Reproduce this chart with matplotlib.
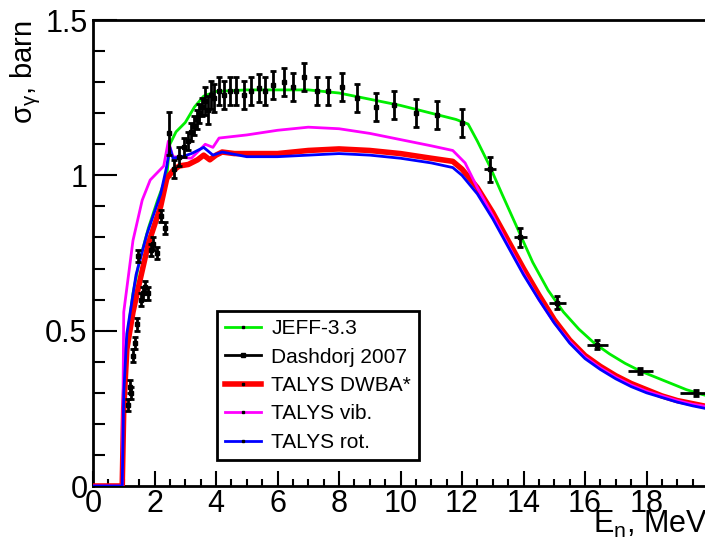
import numpy as np
import matplotlib
matplotlib.use("Agg")
import matplotlib.pyplot as plt
from matplotlib.lines import Line2D

plt.rcParams.update({
    "font.family": ["Liberation Sans", "DejaVu Sans"],
    "mathtext.fontset": "custom",
    "mathtext.rm": "Liberation Sans",
    "mathtext.it": "Liberation Sans",
})

# ---- JEFF-3.3 evaluation ----
e_jeff = [0, 0.95, 1.0, 1.1, 1.3, 1.5, 1.8, 2.1, 2.4, 2.5, 2.7, 3.0, 3.3, 3.6, 4.0,
          5, 6, 7, 8, 9, 10, 11, 11.8, 12.2, 12.5, 12.9, 13.3, 13.8, 14.3, 14.8,
          15.3, 15.8, 16.3, 16.8, 17.3, 17.8, 18.3, 18.8, 19.3, 19.8, 20]
s_jeff = [0, 0, 0.28, 0.47, 0.62, 0.72, 0.83, 0.92, 1.0, 1.10, 1.14, 1.17, 1.22, 1.255, 1.27,
          1.275, 1.275, 1.275, 1.265, 1.245, 1.225, 1.20, 1.18, 1.165, 1.11, 1.03, 0.94, 0.83, 0.72, 0.63,
          0.56, 0.505, 0.46, 0.425, 0.395, 0.37, 0.35, 0.33, 0.31, 0.295, 0.29]

# ---- TALYS DWBA* ----
e_dwba = [0, 0.95, 1.0, 1.1, 1.3, 1.5, 1.8, 2.2, 2.4, 2.6, 2.8, 3.1, 3.4, 3.6, 3.8, 4.0,
          4.2, 4.6, 5, 6, 7, 8, 9, 10, 11, 11.7, 12.0, 12.5, 13, 13.5, 14, 14.5, 15,
          15.5, 16, 16.5, 17, 17.5, 18, 18.5, 19, 19.5, 20]
s_dwba = [0, 0, 0.25, 0.44, 0.56, 0.65, 0.78, 0.90, 0.99, 1.015, 1.03, 1.035, 1.05, 1.065, 1.05, 1.065,
          1.075, 1.07, 1.07, 1.07, 1.08, 1.085, 1.08, 1.07, 1.055, 1.045, 1.02, 0.96, 0.88, 0.79, 0.70, 0.615, 0.535,
          0.47, 0.42, 0.385, 0.355, 0.33, 0.31, 0.29, 0.275, 0.265, 0.255]

# ---- TALYS vib. ----
e_vib = [0, 0.95, 1.0, 1.3, 1.6, 1.86, 2.3, 2.45, 2.6, 3.2, 3.65, 3.9, 4.1, 5, 6, 7, 8, 9,
         10, 11, 11.7, 12.1, 12.5, 13, 13.5, 14, 14.5, 15, 15.5, 16, 16.5, 17, 17.5, 18,
         18.5, 19, 19.5, 20]
s_vib = [0, 0, 0.56, 0.79, 0.92, 0.985, 1.03, 1.11, 1.06, 1.055, 1.10, 1.09, 1.12, 1.13, 1.145, 1.155, 1.15, 1.135,
         1.115, 1.095, 1.08, 1.04, 0.96, 0.87, 0.775, 0.685, 0.60, 0.525, 0.465, 0.415, 0.38, 0.35, 0.325, 0.305,
         0.29, 0.275, 0.263, 0.255]

# ---- TALYS rot. ----
e_rot = [0, 0.95, 1.0, 1.1, 1.4, 1.75, 2.2, 2.4, 2.5, 2.6, 2.9, 3.2, 3.6, 3.9, 4.2, 5, 6, 7,
         8, 9, 10, 11, 11.7, 12.0, 12.5, 13, 13.5, 14, 14.5, 15, 15.5, 16, 16.5, 17,
         17.5, 18, 18.5, 19, 19.5, 20]
s_rot = [0, 0, 0.30, 0.49, 0.68, 0.81, 0.94, 1.03, 1.09, 1.055, 1.06, 1.07, 1.09, 1.065, 1.075, 1.06, 1.06, 1.065,
         1.07, 1.065, 1.055, 1.04, 1.025, 1.0, 0.94, 0.86, 0.77, 0.68, 0.60, 0.525, 0.46, 0.41, 0.375, 0.345,
         0.32, 0.30, 0.285, 0.27, 0.258, 0.248]

# ---- Dashdorj 2007 ----
e_exp = [1.15, 1.2, 1.25, 1.3, 1.35, 1.42, 1.45, 1.55, 1.62, 1.7, 1.8, 1.87, 1.95, 2.08, 2.22,
         2.33, 2.48, 2.65, 2.8, 2.95, 3.08, 3.2, 3.3, 3.38, 3.45, 3.55, 3.65, 3.75, 3.85, 3.95,
         4.1, 4.25, 4.45, 4.65, 4.9, 5.15, 5.4, 5.6, 5.86, 6.2, 6.5, 6.85, 7.3, 7.65, 8.1,
         8.6, 9.2, 9.8, 10.5, 11.2, 12.0, 12.9, 13.9, 15.1, 16.4, 17.8, 19.6]
s_exp = [0.26, 0.32, 0.30, 0.42, 0.46, 0.52, 0.74, 0.60, 0.62, 0.64, 0.62, 0.76, 0.78, 0.75, 0.87,
         0.83, 1.135, 1.02, 1.06, 1.09, 1.11, 1.14, 1.16, 1.18, 1.20, 1.22, 1.24, 1.21, 1.26, 1.25,
         1.27, 1.26, 1.27, 1.27, 1.26, 1.27, 1.28, 1.27, 1.29, 1.30, 1.285, 1.315, 1.27, 1.27, 1.285,
         1.25, 1.22, 1.225, 1.20, 1.195, 1.17, 1.02, 0.80, 0.59, 0.455, 0.37, 0.30]
ds_exp = [0.02] * 16 + [0.07] + [0.03] * 9 + [0.045] * 25 + [0.04, 0.03, 0.02, 0.015, 0.01, 0.01]
de_exp = [0.03] * 16 + [0.05] * 35 + [0.2, 0.2, 0.27, 0.35, 0.4, 0.5]

fig = plt.figure(figsize=(7.05, 5.47), dpi=100)
ax = fig.add_axes([93 / 705, 1 - 486 / 547, 615 / 705, 466 / 547])

ax.plot(e_jeff, s_jeff, color="#00ee00", lw=2.0, zorder=2)
ax.plot(e_dwba, s_dwba, color="#ff0000", lw=4.0, zorder=3)
ax.plot(e_vib, s_vib, color="#ff00ff", lw=2.0, zorder=4)
ax.plot(e_rot, s_rot, color="#0000ff", lw=2.0, zorder=5)

# y error bars with caps, x error bars without
ax.errorbar(e_exp, s_exp, yerr=ds_exp, fmt="s", ms=3, color="black", ecolor="black",
            elinewidth=2.0, capsize=2.5, capthick=2.0, zorder=6)
ax.errorbar(e_exp, s_exp, xerr=de_exp, fmt="none", ecolor="black", elinewidth=2.0, zorder=6)

ax.set_xlim(0, 20)
ax.set_ylim(0, 1.5)
ax.set_xticks(np.arange(0, 20, 2))
ax.set_xticks(np.arange(0, 20.01, 0.5), minor=True)
ax.set_yticks([0, 0.5, 1, 1.5])
ax.set_yticklabels(["0", "0.5", "1", "1.5"])
ax.set_yticks(np.arange(0, 1.51, 0.1), minor=True)

ax.tick_params(axis="both", which="both", direction="in", labelsize=22, width=1.5,
               top=False, right=False)
ax.tick_params(axis="y", which="major", length=17, pad=4)
ax.tick_params(axis="y", which="minor", length=8.5)
ax.tick_params(axis="x", which="major", length=11, pad=2)
ax.tick_params(axis="x", which="minor", length=5)
for sp in ax.spines.values():
    sp.set_linewidth(2.0)

ax.set_ylabel("σ$_{\\mathregular{γ}}$, barn", fontsize=21, loc="top")
ax.yaxis.set_label_coords(-0.082, 1.0)
ax.set_xlabel("E$_{\\mathregular{n}}$, MeV", fontsize=22, loc="right")
ax.xaxis.set_label_coords(1.0, -0.05)

handles = [
    Line2D([], [], color="#00ee00", lw=2.0, marker="s", ms=1.5, mfc="black", mec="black"),
    Line2D([], [], color="black", lw=2.0, marker="s", ms=3, mfc="black", mec="black"),
    Line2D([], [], color="#ff0000", lw=4.0, marker="s", ms=1.5, mfc="black", mec="black"),
    Line2D([], [], color="#ff00ff", lw=2.0, marker="s", ms=1.5, mfc="black", mec="black"),
    Line2D([], [], color="#0000ff", lw=2.0, marker="s", ms=1.5, mfc="black", mec="black"),
]
labels = ["JEFF-3.3", "Dashdorj 2007", "TALYS DWBA*", "TALYS vib.", "TALYS rot."]
leg = ax.legend(handles, labels, loc="upper left", bbox_to_anchor=(0.2016, 0.3755),
                fontsize=15, frameon=True, fancybox=False, framealpha=1, numpoints=1,
                handlelength=1.7, handletextpad=0.5, labelspacing=0.45,
                borderpad=0.4, borderaxespad=0)
leg.get_frame().set_edgecolor("black")
leg.get_frame().set_linewidth(2.0)

fig.savefig("out.png", dpi=100)
